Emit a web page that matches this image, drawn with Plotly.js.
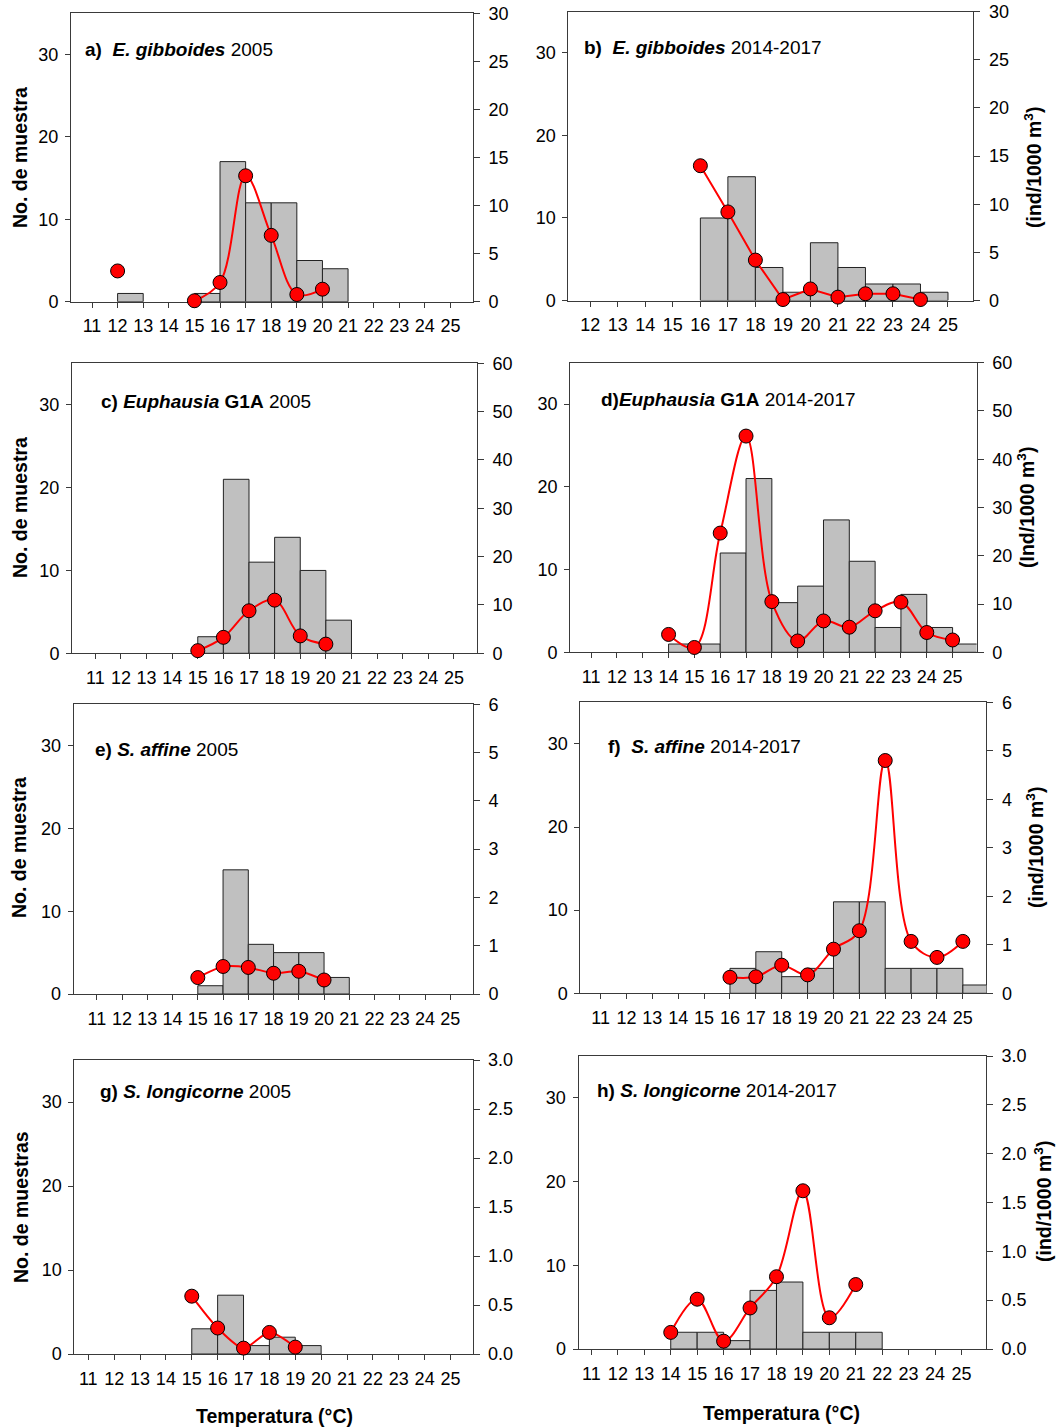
<!DOCTYPE html>
<html>
<head>
<meta charset="utf-8">
<script src="https://cdn.plot.ly/plotly-3.0.1.min.js"></script>
<style>
  html, body { margin: 0; padding: 0; background: #ffffff; }
  #chart { width: 1058px; height: 1428px; }
</style>
</head>
<body>
<div id="chart"></div>
<script>
// Temperature axis ticks (°C)
const tempTicks = [11, 12, 13, 14, 15, 16, 17, 18, 19, 20, 21, 22, 23, 24, 25];
const tempTicksB = [12, 13, 14, 15, 16, 17, 18, 19, 20, 21, 22, 23, 24, 25];

// a) E. gibboides 2005
const binsA = [12, 15, 16, 17, 18, 19, 20];
const countsA = [1, 1, 17, 12, 12, 5, 4];
const tempA = [12, 13, 14, 15, 16, 17, 18, 19, 20];
const densA = [3.2, null, null, 0.1, 2.0, 13.1, 6.9, 0.75, 1.3];

// b) E. gibboides 2014-2017
const binsB = [16, 17, 18, 19, 20, 21, 22, 23, 24];
const countsB = [10, 15, 4, 1, 7, 4, 2, 2, 1];
const tempB = [16, 17, 18, 19, 20, 21, 22, 23, 24];
const densB = [14.0, 9.2, 4.2, 0.1, 1.2, 0.35, 0.7, 0.7, 0.1];

// c) Euphausia G1A 2005
const binsC = [15, 16, 17, 18, 19, 20];
const countsC = [2, 21, 11, 14, 10, 4];
const tempC = [15, 16, 17, 18, 19, 20];
const densC = [0.55, 3.3, 8.8, 11.0, 3.6, 1.9];

// d) Euphausia G1A 2014-2017
const binsD = [14, 15, 16, 17, 18, 19, 20, 21, 22, 23, 24, 25];
const countsD = [1, 1, 12, 21, 6, 8, 16, 11, 3, 7, 3, 1];
const tempD = [14, 15, 16, 17, 18, 19, 20, 21, 22, 23, 24, 25];
const densD = [3.7, 1.0, 24.7, 44.8, 10.5, 2.35, 6.5, 5.2, 8.6, 10.4, 4.1, 2.55];

// e) S. affine 2005
const binsE = [15, 16, 17, 18, 19, 20];
const countsE = [1, 15, 6, 5, 5, 2];
const tempE = [15, 16, 17, 18, 19, 20];
const densE = [0.34, 0.57, 0.55, 0.43, 0.47, 0.29];

// f) S. affine 2014-2017
const binsF = [16, 17, 18, 19, 20, 21, 22, 23, 24, 25];
const countsF = [3, 5, 2, 3, 11, 11, 3, 3, 3, 1];
const tempF = [16, 17, 18, 19, 20, 21, 22, 23, 24, 25];
const densF = [0.33, 0.34, 0.58, 0.38, 0.91, 1.29, 4.8, 1.07, 0.74, 1.07];

// g) S. longicorne 2005
const binsG = [15, 16, 17, 18, 19];
const countsG = [3, 7, 1, 2, 1];
const tempG = [15, 16, 17, 18, 19];
const densG = [0.59, 0.265, 0.06, 0.22, 0.07];

// h) S. longicorne 2014-2017
const binsH = [14, 15, 16, 17, 18, 19, 20, 21];
const countsH = [2, 2, 1, 7, 8, 2, 2, 2];
const tempH = [14, 15, 16, 17, 18, 19, 20, 21];
const densH = [0.17, 0.51, 0.08, 0.42, 0.74, 1.62, 0.32, 0.66];

const W = 1058, H = 1428;
const FONT = 'Arial, "Liberation Sans", sans-serif';

// Subplot boxes in page pixels and per-panel axis settings
const panels = [
  { l: 71,    r: 473,   t: 13.3,  b: 301.7,  xr: [10.18, 25.88], ticks: tempTicks,  r2: 30, dt: 5,   fmt: '',    smooth: 1.0, bins: binsA, counts: countsA, temps: tempA, dens: densA },
  { l: 568.3, r: 973.3, t: 11.7,  b: 300.5,  xr: [11.2, 25.92],  ticks: tempTicksB, r2: 30, dt: 5,   fmt: '',    smooth: 0.3, bins: binsB, counts: countsB, temps: tempB, dens: densB },
  { l: 72,    r: 477,   t: 363.3, b: 653.3,  xr: [10.09, 25.9],  ticks: tempTicks,  r2: 60, dt: 10,  fmt: '',    smooth: 1.0, bins: binsC, counts: countsC, temps: tempC, dens: densC },
  { l: 570.2, r: 976.6, t: 362.7, b: 652.3,  xr: [10.19, 25.93], ticks: tempTicks,  r2: 60, dt: 10,  fmt: '',    smooth: 1.0, bins: binsD, counts: countsD, temps: tempD, dens: densD },
  { l: 73.6,  r: 473,   t: 704.3, b: 994,    xr: [10.08, 25.9],  ticks: tempTicks,  r2: 6,  dt: 1,   fmt: '',    smooth: 0.7, bins: binsE, counts: countsE, temps: tempE, dens: densE },
  { l: 580.4, r: 986.4, t: 702.3, b: 993.3,  xr: [10.22, 25.91], ticks: tempTicks,  r2: 6,  dt: 1,   fmt: '',    smooth: 1.0, bins: binsF, counts: countsF, temps: tempF, dens: densF },
  { l: 74.3,  r: 472.5, t: 1060,  b: 1354,   xr: [10.46, 25.85], ticks: tempTicks,  r2: 3,  dt: 0.5, fmt: '.1f', smooth: 0.8, bins: binsG, counts: countsG, temps: tempG, dens: densG },
  { l: 578.5, r: 985.8, t: 1056,  b: 1349,   xr: [10.51, 25.92], ticks: tempTicks,  r2: 3,  dt: 0.5, fmt: '.1f', smooth: 1.0, bins: binsH, counts: countsH, temps: tempH, dens: densH }
];

const AXIS_COLOR = '#3a3a3a';
const tickFont = { family: FONT, size: 18, color: '#000' };

const traces = [];
const layout = {
  width: W, height: H,
  margin: { l: 0, r: 0, t: 0, b: 0 },
  paper_bgcolor: '#fff',
  plot_bgcolor: '#fff',
  showlegend: false,
  bargap: 0,
  font: { family: FONT, color: '#000' },
  annotations: []
};

panels.forEach((p, i) => {
  const n = i + 1;
  const xName = n === 1 ? 'x' : 'x' + n;
  const yL = 2 * n - 1, yR = 2 * n;
  const yLName = yL === 1 ? 'y' : 'y' + yL;
  const yRName = 'y' + yR;
  const xKey = n === 1 ? 'xaxis' : 'xaxis' + n;
  const yLKey = yL === 1 ? 'yaxis' : 'yaxis' + yL;
  const yRKey = 'yaxis' + yR;

  layout[xKey] = {
    domain: [p.l / W, p.r / W],
    anchor: yLName,
    range: p.xr,
    tickmode: 'array',
    tickvals: p.ticks,
    ticktext: p.ticks.map(String),
    ticks: 'outside', ticklen: 5, tickwidth: 1, tickcolor: AXIS_COLOR,
    ticklabelstandoff: 3,
    tickfont: tickFont,
    showline: true, linecolor: AXIS_COLOR, linewidth: 1, mirror: true,
    showgrid: false, zeroline: false, fixedrange: true,
    layer: 'below traces'
  };
  layout[yLKey] = {
    domain: [1 - p.b / H, 1 - p.t / H],
    anchor: xName,
    range: [0, 35],
    tickmode: 'array',
    tickvals: [0, 10, 20, 30],
    ticks: 'outside', ticklen: 5, tickwidth: 1, tickcolor: AXIS_COLOR,
    ticklabelstandoff: 3,
    tickfont: tickFont,
    showline: true, linecolor: AXIS_COLOR, linewidth: 1,
    showgrid: false, zeroline: false, fixedrange: true,
    layer: 'below traces'
  };
  const rTicks = [];
  for (let v = 0; v <= p.r2 + 1e-9; v += p.dt) rTicks.push(+v.toFixed(2));
  layout[yRKey] = {
    overlaying: yLName,
    anchor: xName,
    side: 'right',
    range: [0, p.r2],
    tickmode: 'array',
    tickvals: rTicks,
    tickformat: p.fmt,
    ticks: 'outside', ticklen: 6, tickwidth: 1, tickcolor: AXIS_COLOR,
    ticklabelstandoff: 5,
    tickfont: tickFont,
    showline: true, linecolor: AXIS_COLOR, linewidth: 1,
    showgrid: false, zeroline: false, fixedrange: true,
    layer: 'below traces'
  };

  // histogram of sample counts per 1 °C bin
  traces.push({
    type: 'bar',
    x: p.bins, y: p.counts,
    offset: 0, width: 1,
    xaxis: xName, yaxis: yLName,
    marker: { color: '#c0c0c0', line: { color: '#222', width: 1 } },
    hoverinfo: 'skip'
  });

  // mean density per temperature
  traces.push({
    type: 'scatter',
    mode: 'lines+markers',
    x: p.temps, y: p.dens,
    xaxis: xName, yaxis: yRName,
    connectgaps: false,
    cliponaxis: false,
    line: { color: '#ff0000', width: 2, shape: p.smooth > 0.35 ? 'spline' : 'linear', smoothing: p.smooth },
    marker: { color: '#ff0000', size: 14, line: { color: '#000', width: 1 } },
    hoverinfo: 'skip'
  });
});

// panel labels
const labels = [
  { x: 83,  y: 49.5,  text: '<b>a)\u00a0\u00a0<i>E. gibboides</i></b> 2005' },
  { x: 582, y: 47.5,  text: '<b>b)\u00a0\u00a0<i>E. gibboides</i></b> 2014-2017' },
  { x: 99,  y: 401.5, text: '<b>c) <i>Euphausia</i> G1A</b> 2005' },
  { x: 599, y: 399,   text: '<b>d)<i>Euphausia</i> G1A</b> 2014-2017' },
  { x: 93,  y: 749,   text: '<b>e) <i>S. affine</i></b> 2005' },
  { x: 606, y: 746.5, text: '<b>f)\u00a0\u00a0<i>S. affine</i></b> 2014-2017' },
  { x: 98,  y: 1091.5,text: '<b>g) <i>S. longicorne</i></b> 2005' },
  { x: 595, y: 1090,  text: '<b>h) <i>S. longicorne</i></b> 2014-2017' }
];
labels.forEach(a => layout.annotations.push({
  xref: 'paper', yref: 'paper',
  x: a.x / W, y: 1 - a.y / H,
  xanchor: 'left', yanchor: 'middle',
  text: a.text, showarrow: false,
  font: { family: FONT, size: 19, color: '#000' }
}));

// left axis titles
const leftTitles = [
  { x: 20, y: 158, text: 'No. de muestra' },
  { x: 20, y: 508, text: 'No. de muestra' },
  { x: 19, y: 848, text: 'No. de muestra' },
  { x: 21, y: 1207, text: 'No. de muestras' }
];
// right axis titles
const rightTitles = [
  { x: 1033, y: 168, text: '(ind/1000 m<sup>3</sup>)' },
  { x: 1026, y: 508, text: '(Ind/1000 m<sup>3</sup>)' },
  { x: 1035, y: 848, text: '(ind/1000 m<sup>3</sup>)' },
  { x: 1043, y: 1202, text: '(ind/1000 m<sup>3</sup>)' }
];
leftTitles.concat(rightTitles).forEach(a => layout.annotations.push({
  xref: 'paper', yref: 'paper',
  x: a.x / W, y: 1 - a.y / H,
  xanchor: 'center', yanchor: 'middle',
  textangle: -90,
  text: '<b>' + a.text + '</b>', showarrow: false,
  font: { family: FONT, size: 19.5, color: '#000' }
}));

// temperature titles under the bottom row
[{ x: 274, y: 1416 }, { x: 781, y: 1413 }].forEach(a => layout.annotations.push({
  xref: 'paper', yref: 'paper',
  x: a.x / W, y: 1 - a.y / H,
  xanchor: 'center', yanchor: 'middle',
  text: '<b>Temperatura (°C)</b>', showarrow: false,
  font: { family: FONT, size: 19.5, color: '#000' }
}));

Plotly.newPlot('chart', traces, layout, { staticPlot: true, displayModeBar: false });
</script>
</body>
</html>
